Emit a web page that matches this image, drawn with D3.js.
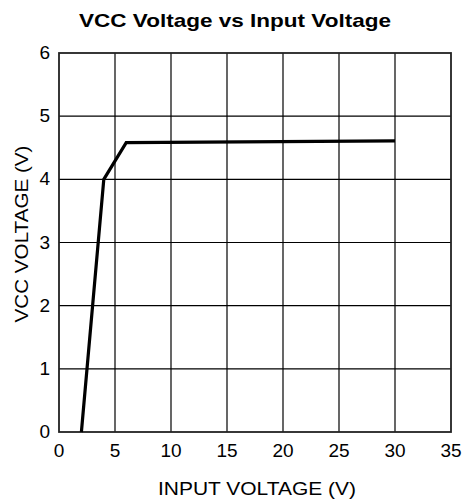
<html>
<head>
  <script src="https://d3js.org/d3.v7.min.js"></script>
  <style>
    body { margin: 0; background: #fff; font-family: 'Liberation Sans', Arial, sans-serif; }
  </style>
</head>
<body>
<div id="chart"></div>
<script>
  /*--- Data ---*/
  var inputVoltage = [2, 4, 6, 30],
    vccVoltage = [0, 4, 4.58, 4.61],
    xTicks = [0, 5, 10, 15, 20, 25, 30, 35],
    yTicks = [0, 1, 2, 3, 4, 5, 6];

  var width = 465, height = 502,
    margin = {left: 59, right: 14, top: 53, bottom: 70};

  var svg = d3.select("#chart").append("svg")
    .attr("width", width)
    .attr("height", height);

  var x = d3.scaleLinear().domain([0, 35]).range([margin.left, width - margin.right]),
    y = d3.scaleLinear().domain([0, 6]).range([height - margin.bottom, margin.top]);

  /*--- Grid ---*/
  svg.append("g").selectAll("line").data(xTicks.slice(1, -1)).enter().append("line")
    .attr("x1", function (d) { return x(d); }).attr("x2", function (d) { return x(d); })
    .attr("y1", y(0)).attr("y2", y(6))
    .attr("stroke", "#000").attr("stroke-width", 1.2);

  svg.append("g").selectAll("line").data(yTicks.slice(1, -1)).enter().append("line")
    .attr("y1", function (d) { return y(d); }).attr("y2", function (d) { return y(d); })
    .attr("x1", x(0)).attr("x2", x(35))
    .attr("stroke", "#000").attr("stroke-width", 1.2);

  svg.append("rect")
    .attr("x", x(0)).attr("y", y(6))
    .attr("width", x(35) - x(0)).attr("height", y(0) - y(6))
    .attr("fill", "none").attr("stroke", "#222").attr("stroke-width", 1.8);

  /*--- Tick labels ---*/
  svg.append("g").selectAll("text").data(xTicks).enter().append("text")
    .attr("x", function (d) { return x(d); })
    .attr("y", y(0) + 25)
    .attr("text-anchor", "middle")
    .attr("font-size", "19px")
    .text(function (d) { return d; });

  svg.append("g").selectAll("text").data(yTicks).enter().append("text")
    .attr("x", x(0) - 9)
    .attr("y", function (d) { return y(d) + 6; })
    .attr("text-anchor", "end")
    .attr("font-size", "19px")
    .text(function (d) { return d; });

  /*--- Series ---*/
  var line = d3.line()
    .x(function (d, i) { return x(inputVoltage[i]); })
    .y(function (d) { return y(d); });

  svg.append("path")
    .datum(vccVoltage)
    .attr("d", line)
    .attr("fill", "none")
    .attr("stroke", "#000")
    .attr("stroke-width", 3.2)
    .attr("stroke-linejoin", "miter");

  /*--- Titles ---*/
  svg.append("text")
    .attr("x", 235).attr("y", 27)
    .attr("text-anchor", "middle")
    .attr("font-size", "19px").attr("font-weight", "bold")
    .attr("textLength", 312).attr("lengthAdjust", "spacingAndGlyphs")
    .text("VCC Voltage vs Input Voltage");

  svg.append("text")
    .attr("x", 257).attr("y", 495)
    .attr("text-anchor", "middle")
    .attr("font-size", "19px")
    .attr("textLength", 198).attr("lengthAdjust", "spacingAndGlyphs")
    .text("INPUT VOLTAGE (V)");

  svg.append("text")
    .attr("transform", "translate(28,234) rotate(-90)")
    .attr("text-anchor", "middle")
    .attr("font-size", "19px")
    .attr("textLength", 177).attr("lengthAdjust", "spacingAndGlyphs")
    .text("VCC VOLTAGE (V)");
</script>
</body>
</html>
